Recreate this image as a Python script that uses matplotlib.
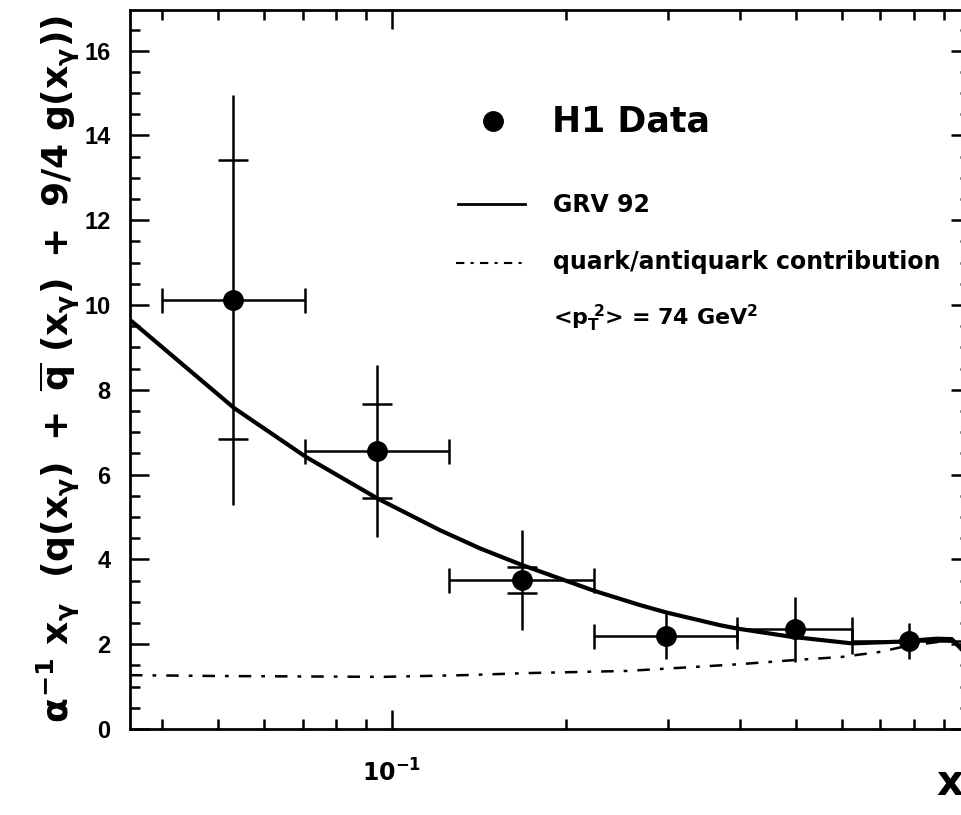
import numpy as np
import matplotlib
matplotlib.use("Agg")
import matplotlib.pyplot as plt
from matplotlib.ticker import FixedLocator, FuncFormatter, MultipleLocator

# H1 data points (x_gamma, value), bin edges and errors
x_data = [0.0531, 0.0942, 0.1677, 0.298, 0.498, 0.785]
y_data = [10.12, 6.56, 3.51, 2.19, 2.35, 2.08]
bin_lo = [0.040, 0.0708, 0.1256, 0.224, 0.395, 0.625]
bin_hi = [0.0708, 0.1256, 0.224, 0.395, 0.625, 0.985]
err_tot = [4.84, 2.03, 1.18, 0.54, 0.77, 0.43]
err_stat = [3.29, 1.10, 0.30, np.nan, np.nan, np.nan]

# GRV 92 prediction
grv_x = [0.0352, 0.0533, 0.0709, 0.0943, 0.121, 0.142, 0.1677, 0.2237, 0.269,
         0.298, 0.369, 0.395, 0.488, 0.624, 0.755, 0.874, 0.93, 0.97]
grv_y = [9.65, 7.57, 6.42, 5.44, 4.69, 4.26, 3.87, 3.26, 2.92,
         2.75, 2.45, 2.37, 2.18, 2.02, 2.06, 2.13, 2.12, 1.86]

# quark/antiquark contribution
qq_x = [0.0352, 0.05, 0.0965, 0.133, 0.173, 0.255, 0.33, 0.40, 0.49, 0.60,
        0.70, 0.76, 0.82, 0.90, 0.95]
qq_y = [1.27, 1.25, 1.23, 1.27, 1.32, 1.37, 1.46, 1.53, 1.62, 1.70,
        1.82, 1.93, 2.00, 2.07, 2.06]

plt.rcParams['font.family'] = ['Liberation Sans', 'DejaVu Sans']
plt.rcParams['font.weight'] = 'bold'
plt.rcParams['mathtext.fontset'] = 'custom'
plt.rcParams['mathtext.rm'] = 'DejaVu Sans:bold'
plt.rcParams['mathtext.it'] = 'DejaVu Sans:bold'
plt.rcParams['mathtext.bf'] = 'DejaVu Sans:bold'

W, H = 962, 815
fig = plt.figure(figsize=(W / 100, H / 100), dpi=100)
ax = fig.add_axes([130 / W, 86 / H, 840 / W, 719 / H])


def fx(px):
    return px / W


def fy(py):
    return 1 - py / H


ax.set_xscale('log')
ax.set_xlim(0.0352, 1.0)
ax.set_ylim(0, 16.96)

ax.plot(grv_x, grv_y, color='black', lw=3, zorder=2)
ax.plot(qq_x, qq_y, color='black', lw=1.8, ls=(0, (5, 4, 1.5, 4)), zorder=2)

x = np.array(x_data)
y = np.array(y_data)
xerr = [x - np.array(bin_lo), np.array(bin_hi) - x]
ax.errorbar(x, y, xerr=xerr, fmt='none', ecolor='black', elinewidth=1.8,
            capsize=9, capthick=1.8, zorder=3)
ax.errorbar(x, y, yerr=err_tot, fmt='none', ecolor='black', elinewidth=1.8,
            capsize=0, zorder=3)
stat = np.array(err_stat)
ax.plot(x, y + stat, ls='none', marker='_', ms=22, mew=1.8, color='black', zorder=3)
ax.plot(x, y - stat, ls='none', marker='_', ms=22, mew=1.8, color='black', zorder=3)
ax.plot(x, y, ls='none', marker='o', ms=14, color='black', zorder=4)

# ticks
ax.xaxis.set_major_locator(FixedLocator([0.1, 1.0]))
ax.xaxis.set_minor_locator(FixedLocator([0.04, 0.05, 0.06, 0.07, 0.08, 0.09,
                                         0.2, 0.3, 0.4, 0.5, 0.6, 0.7, 0.8, 0.9]))
ax.xaxis.set_major_formatter(FuncFormatter(
    lambda v, p: r'$10^{-1}$' if abs(v - 0.1) < 1e-9 else '1'))
ax.xaxis.set_minor_formatter(FuncFormatter(lambda v, p: ''))
ax.yaxis.set_major_locator(MultipleLocator(2))
ax.yaxis.set_minor_locator(MultipleLocator(0.5))
ax.tick_params(which='both', direction='in', top=True, right=True, width=1.8, color='black')
ax.tick_params(which='major', length=14)
ax.tick_params(which='minor', length=7)
ax.tick_params(axis='y', labelsize=17, pad=14)
ax.tick_params(axis='x', labelsize=17, pad=22)
for lab in ax.get_xticklabels() + ax.get_yticklabels():
    lab.set_fontweight('bold')
    lab.set_fontfamily('Liberation Sans')
for s in ax.spines.values():
    s.set_linewidth(2)

ax.set_ylabel(r'$\alpha^{-1}\ x_{\gamma}\ \ (q(x_{\gamma})\ +\ \overline{q}\ (x_{\gamma})\ +\ 9/4\ g(x_{\gamma}))$',
              fontsize=26)
ax.yaxis.set_label_coords(-0.057, 0.5)
fig.text(fx(936), fy(790), r'$x_{\gamma}$', fontsize=30, va='center', ha='left')

# legend drawn by hand
leg_font = ['DejaVu Sans']
fig.add_artist(plt.Line2D([fx(493)], [fy(121)], marker='o', ms=14, color='black',
                          transform=fig.transFigure))
fig.text(fx(552), fy(121), 'H1 Data', fontsize=25, fontweight='bold', va='center',
         family=leg_font)
fig.add_artist(plt.Line2D([fx(458), fx(525)], [fy(204), fy(204)], lw=2, color='black',
                          transform=fig.transFigure))
fig.text(fx(553), fy(205), 'GRV 92', fontsize=17, fontweight='bold', va='center',
         family=leg_font)
fig.add_artist(plt.Line2D([fx(456), fx(525)], [fy(263), fy(263)], lw=1.5, color='black',
                          ls=(0, (4, 3, 1.5, 3)), transform=fig.transFigure))
fig.text(fx(553), fy(262), 'quark/antiquark contribution', fontsize=17,
         fontweight='bold', va='center', family=leg_font)
fig.text(fx(553), fy(318), r'<p$_{\mathrm{T}}^{\ 2}$> = 74 GeV$^{2}$', fontsize=16,
         fontweight='bold', va='center', family=leg_font)

fig.savefig('out.png', dpi=100)
